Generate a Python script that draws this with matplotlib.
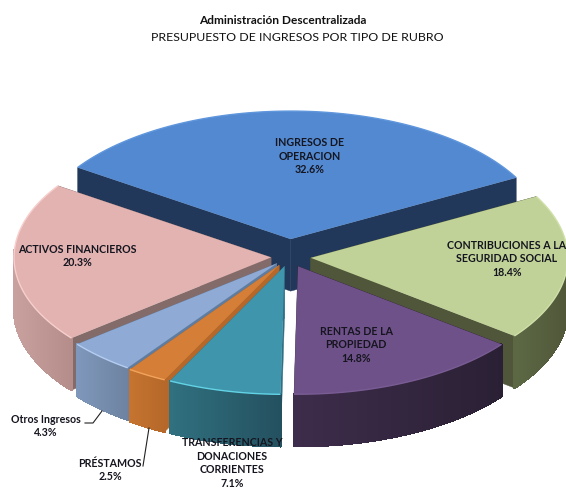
import numpy as np
import matplotlib
matplotlib.use("Agg")
import matplotlib.pyplot as plt
from matplotlib.patches import Polygon
from matplotlib.colors import to_rgb

# data
categories = ["INGRESOS DE\nOPERACION", "CONTRIBUCIONES A LA\nSEGURIDAD SOCIAL",
              "RENTAS DE LA\nPROPIEDAD", "TRANSFERENCIAS Y\nDONACIONES\nCORRIENTES",
              "PRÉSTAMOS", "Otros Ingresos", "ACTIVOS FINANCIEROS"]
values = [32.6, 18.4, 14.8, 7.1, 2.5, 4.3, 20.3]

# styles
explode = [0.14, 0.085, 0.08, 0.075, 0.075, 0.07, 0.07]
top_colors = ["#5289d1", "#c0d298", "#6f5189", "#3f95ab", "#d57e38", "#8faad4", "#e2b3b1"]
rim_colors = ["#5f96dc", "#cfe0a8", "#7a5c94", "#63d3e6", "#f2a45c", "#b4cdf0", "#f7cfcd"]
face_colors = ["#22385a", "#505639", "#2a2034", "#2f7085", "#b5682a", "#5f7da0", "#836b6a"]
side_left = ["#22385a", "#5c6844", "#3d2c4b", "#30707f", "#c5732f", "#7e97ba", "#c8a09e"]
side_right = ["#22385a", "#505639", "#2a2034", "#24505f", "#b5682a", "#6d82a0", "#b48d8b"]
draw_order = [0, 6, 1, 5, 4, 2, 3]

CX, CY = 289.0, 257.0
RX, RY = 257.0, 128.0
DEPTH = 52.0
START = 146.0

fig = plt.figure(figsize=(5.66, 4.91), dpi=100)
ax = fig.add_axes([0, 0, 1, 1])
ax.set_xlim(0, 566)
ax.set_ylim(491, 0)
ax.axis("off")

fracs = np.array(values) / np.sum(values)
ends = START - np.cumsum(fracs) * 360
starts = ends + fracs * 360


def lerp(c1, c2, t):
    a, b = np.array(to_rgb(c1)), np.array(to_rgb(c2))
    return tuple(a + (b - a) * t)


for order, i in enumerate(draw_order):
    z = 2 + order
    a0, a1 = starts[i], ends[i]
    mid = np.radians((a0 + a1) / 2)
    ox = CX + explode[i] * RX * np.cos(mid)
    oy = CY - explode[i] * RY * np.sin(mid)
    th = np.radians(np.linspace(a0, a1, 120))
    xs = ox + RX * np.cos(th)
    ys = oy - RY * np.sin(th)
    # radial faces
    for (ex, ey) in [(xs[0], ys[0]), (xs[-1], ys[-1])]:
        ax.add_patch(Polygon([(ox, oy), (ex, ey), (ex, ey + DEPTH), (ox, oy + DEPTH)],
                             closed=True, fc=face_colors[i], ec=face_colors[i], lw=0.3, zorder=z))
    # outer side with a horizontal gradient
    xmin, xmax = xs.min(), xs.max()
    for k in range(len(xs) - 1):
        if np.sin(th[k]) > 0.05 and np.sin(th[k + 1]) > 0.05:
            continue
        t = (min(xs[k], xs[k + 1]) - xmin) / max(xmax - xmin, 1)
        c = lerp(side_left[i], side_right[i], t)
        ax.add_patch(Polygon([(xs[k], ys[k]), (xs[k + 1], ys[k + 1]),
                              (xs[k + 1], ys[k + 1] + DEPTH), (xs[k], ys[k] + DEPTH)],
                             closed=True, fc=c, ec=c, lw=1.0, zorder=z, antialiased=False))
    # top
    ax.add_patch(Polygon(np.column_stack([np.r_[ox, xs], np.r_[oy, ys]]), closed=True,
                         fc=top_colors[i], ec="none", zorder=z))
    ax.plot(xs, ys, color=rim_colors[i], lw=1.0, zorder=z, solid_capstyle="butt")

# titles
FONT = "Lato"
ax.text(283, 20, "Administración Descentralizada", ha="center", va="center",
        fontsize=8.6, fontweight="bold", family=FONT, color="#111111", zorder=20)
ax.text(297, 37, "PRESUPUESTO DE INGRESOS POR TIPO DE RUBRO", ha="center", va="center",
        fontsize=8.9, family=FONT, color="#111111", zorder=20)

# data labels
label_pos = [(310, 156), (507, 259), (356, 345), (232, 463), (110, 470), (46, 426), (77, 256)]
label_size = 7.65
for name, v, (lx, ly) in zip(categories, values, label_pos):
    ax.text(lx, ly, f"{name}\n{v:.1f}%", ha="center", va="center", fontsize=label_size,
            fontweight="bold", family=FONT, color="#15151f", linespacing=1.32,
            zorder=20, clip_on=True)

# leader lines
ax.plot([102, 93, 85], [411, 423, 423], color="#222222", lw=0.8, zorder=19)
ax.plot([149, 143], [428, 466], color="#222222", lw=0.8, zorder=19)

fig.savefig("out.png", dpi=100)
